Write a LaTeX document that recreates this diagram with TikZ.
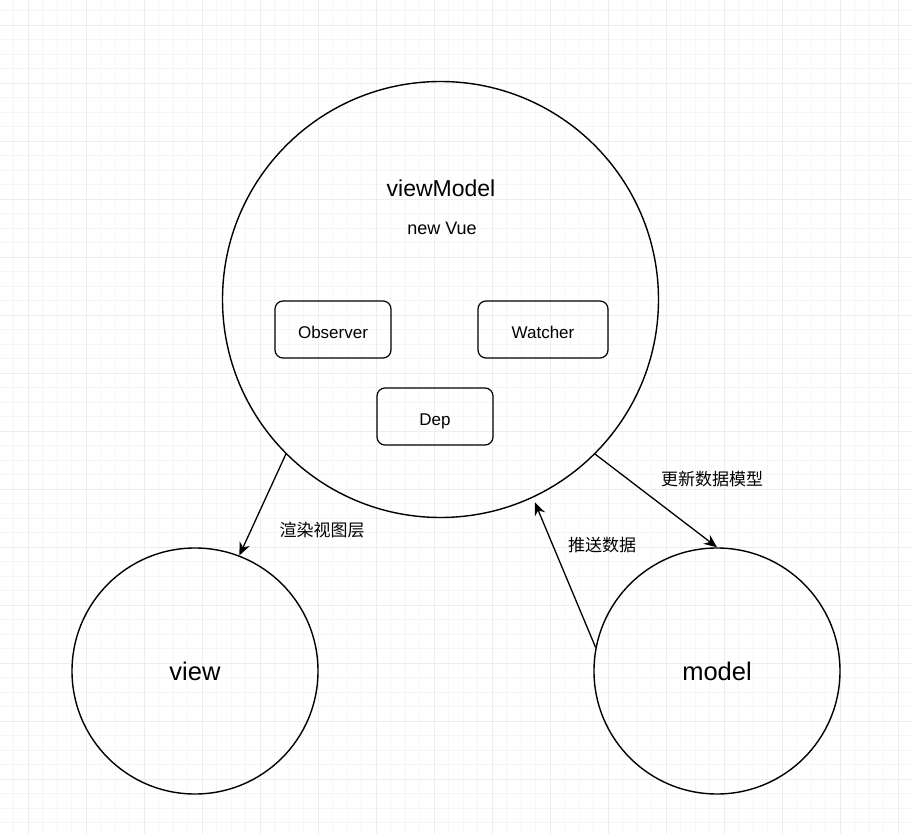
\documentclass[tikz,border=0pt]{standalone}
\usepackage{fontspec}
\setmainfont{Liberation Sans}
\newfontfamily\cjk{Noto Sans CJK SC}
\usetikzlibrary{arrows.meta}
\tikzset{
  ring/.style={draw=black,circle,line width=1.4pt,inner sep=0pt},
  part/.style={draw=black,rounded corners=8pt,line width=1.2pt,minimum height=57pt,inner sep=0pt,
    text height=20pt,text depth=2pt,font=\fontsize{17}{20}\selectfont},
  flow/.style={line width=1.3pt,-{Stealth[length=13pt,width=11pt]}},
  tag/.style={font=\cjk\fontsize{17}{20}\selectfont}
}
\begin{document}
\begin{tikzpicture}[x=1pt,y=-1pt]
\useasboundingbox (0,0) rectangle (911,834);
% grid
\foreach \i in {0,...,63} {
  \draw[color=gray!7,line width=0.6pt] ({-1+14.5*\i},0) -- ({-1+14.5*\i},834);
  \draw[color=gray!7,line width=0.6pt] (0,{-4+14.5*\i}) -- (911,{-4+14.5*\i});
}
\foreach \i in {0,...,15} {
  \draw[color=gray!14,line width=0.8pt] ({28+58*\i},0) -- ({28+58*\i},834);
  \draw[color=gray!14,line width=0.8pt] (0,{25+58*\i}) -- (911,{25+58*\i});
}
\node[ring,minimum size=436pt] (vm) at (440.5,299.5) {};
\node[ring,minimum size=246pt,font=\fontsize{25.5}{30}\selectfont] (view) at (195,671) {view};
\node[ring,minimum size=246pt,font=\fontsize{25.5}{30}\selectfont] (model) at (717,671) {model};
\node[font=\fontsize{23}{27}\selectfont] (title) at (441,188) {viewModel};
\node[font=\fontsize{18}{21}\selectfont] (vue) at (442,228) {new Vue};
\node[part,minimum width=116pt] (obs) at (333,329.5) {Observer};
\node[part,minimum width=130pt] (wat) at (543,329.5) {Watcher};
\node[part,minimum width=116pt] (dep) at (435,416.5) {Dep};
\draw[flow] (vm.225) -- (view.69);
\draw[flow] (vm.-45) -- (model.90);
\draw[flow,shorten >=5pt] (model.169) -- (vm.-65);
\node[tag] (render) at (322,530) {渲染视图层};
\node[tag] (update) at (712,479) {更新数据模型};
\node[tag] (push) at (602,545) {推送数据};
%\draw (vm) circle (218);
\end{tikzpicture}
\end{document}
